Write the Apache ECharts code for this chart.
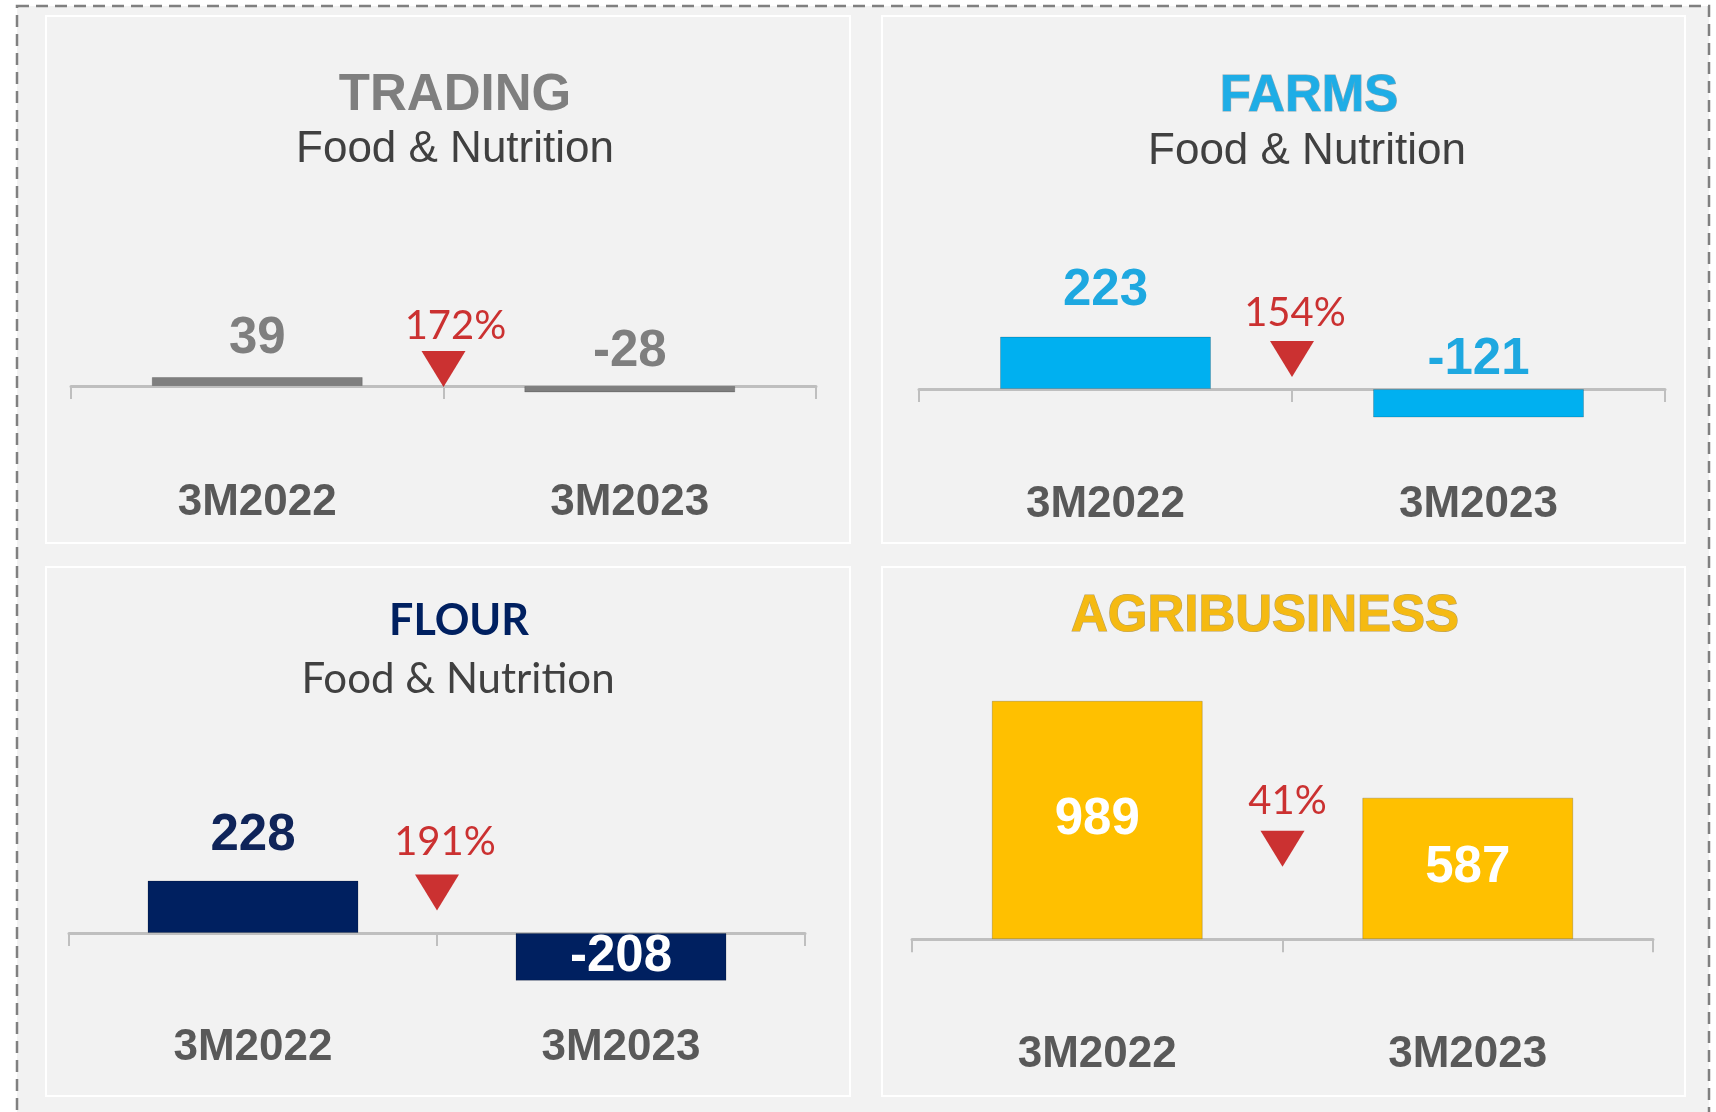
<!DOCTYPE html>
<html><head><meta charset="utf-8">
<script src="https://cdn.jsdelivr.net/npm/echarts@6/dist/echarts.min.js"></script>
<style>html,body{margin:0;padding:0;background:#ffffff;} #c{width:1716px;height:1112px;}</style>
</head><body><div id="c"></div>
<script>
// ---- data ----
const categories = ['3M2022', '3M2023'];
const panelNames = ['TRADING', 'FARMS', 'FLOUR', 'AGRIBUSINESS'];
const panelSubtitles = ['Food & Nutrition', 'Food & Nutrition', 'Food & Nutrition', ''];
const tradingValues = [39, -28];
const farmsValues = [223, -121];
const flourValues = [228, -208];
const agriValues = [989, 587];
const changeLabels = ['172%', '154%', '191%', '41%'];

// ---- layout & styles ----
const ARIAL = '"Liberation Sans", Arial, sans-serif';
const CALIBRI = 'Lato, "Open Sans", sans-serif';
const panels = [
  { values: tradingValues, box: [46, 16, 804, 527], grid: { left: 71, top: 294, width: 745, height: 151.8 }, yMin: -260, yMax: 400,
    markerLevel: 74, barColor: '#7f7f7f', labelColor: '#7f7f7f', titleColor: '#7f7f7f', titleFont: 'bold 51px ' + ARIAL, titleStroke: null,
    titleX: 455, titleY: 96, subX: 455, subY: 150, subFont: '44px ' + ARIAL, inside: [false, false], dist: [13, 9], pctOffset: [12, 0],
    pctDist: 5, labelMargin: 35 },
  { values: farmsValues, box: [882, 16, 803, 527], grid: { left: 919, top: 295, width: 746, height: 154 }, yMin: -255, yMax: 400,
    markerLevel: 128, barColor: '#00b0f0', labelColor: '#1ea8e0', titleColor: '#1eade6', titleFont: 'bold 51px ' + ARIAL, titleStroke: '#8aa7b5',
    titleX: 1309, titleY: 97, subX: 1307, subY: 152, subFont: '44px ' + ARIAL, inside: [false, false], dist: [20, 4], pctOffset: [3, 0],
    pctDist: 8, labelMargin: 34 },
  { values: flourValues, box: [46, 567, 804, 529], grid: { left: 69, top: 841, width: 736, height: 151.8 }, yMin: -260, yMax: 400,
    markerLevel: 176, barColor: '#002060', labelColor: '#0f2459', titleColor: '#002060', titleFont: 'bold 43px ' + CALIBRI, titleStroke: null,
    titleX: 459, titleY: 621, subX: 458, subY: 679, subFont: '42px ' + CALIBRI, inside: [false, true], dist: [19, 0], pctOffset: [8, 0],
    pctDist: 12, labelMargin: 33 },
  { values: agriValues, box: [882, 567, 803, 529], grid: { left: 912, top: 674, width: 741, height: 325.4 }, yMin: -250, yMax: 1100,
    markerLevel: 375, barColor: '#ffc000', labelColor: '#ffffff', titleColor: '#f5ba12', titleFont: 'bold 51px ' + ARIAL, titleStroke: '#b8a060',
    titleX: 1265, titleY: 617, subX: 1265, subY: 672, subFont: '44px ' + ARIAL, inside: [true, true], dist: [0, 0], pctOffset: [5, 0],
    pctDist: 10, labelMargin: 33 }
];

const graphics = [
  { type: 'rect', z: -10, shape: { x: 17, y: 6, width: 1692, height: 1140 },
    style: { fill: '#f2f2f2', stroke: '#808080', lineWidth: 2.5, lineDash: [12, 7] } }
];
const grids = [], xAxes = [], yAxes = [], series = [];

panels.forEach((p, i) => {
  graphics.push({ type: 'rect', z: -5, shape: { x: p.box[0], y: p.box[1], width: p.box[2], height: p.box[3] },
    style: { fill: '#f2f2f2', stroke: '#ffffff', lineWidth: 2 } });
  const ts = { text: panelNames[i], x: p.titleX, y: p.titleY, font: p.titleFont, fill: p.titleColor, align: 'center', verticalAlign: 'middle' };
  if (p.titleStroke) { ts.stroke = p.titleStroke; ts.lineWidth = 1.2; }
  graphics.push({ type: 'text', z: 10, style: ts });
  if (panelSubtitles[i]) {
    graphics.push({ type: 'text', z: 10, style: { text: panelSubtitles[i], x: p.subX, y: p.subY, font: p.subFont, fill: '#404040', align: 'center', verticalAlign: 'middle' } });
  }

  grids.push(Object.assign({ containLabel: false, outerBoundsMode: 'none' }, p.grid));
  xAxes.push({
    gridIndex: i, type: 'category', data: categories,
    axisLine: { onZero: true, lineStyle: { color: '#bfbfbf', width: 3 } },
    axisTick: { show: true, length: 13, lineStyle: { color: '#bfbfbf', width: 2 } },
    axisLabel: { margin: p.labelMargin, color: '#595959', fontFamily: ARIAL, fontWeight: 'bold', fontSize: 44 },
    splitLine: { show: false }
  });
  xAxes.push({ gridIndex: i, type: 'value', min: 0, max: 2, show: false });
  yAxes.push({ gridIndex: i, type: 'value', min: p.yMin, max: p.yMax, show: false, splitLine: { show: false } });

  series.push({
    type: 'bar', xAxisIndex: 2 * i, yAxisIndex: i, barWidth: 211, silent: true,
    itemStyle: { color: p.barColor, borderColor: 'rgba(0,0,0,0.18)', borderWidth: 1 },
    label: { show: true, fontFamily: ARIAL, fontWeight: 'bold', fontSize: 51 },
    data: p.values.map((v, j) => ({
      value: v,
      label: p.inside[j]
        ? { position: 'inside', color: '#ffffff' }
        : { position: 'top', distance: p.dist[j], color: p.labelColor }
    }))
  });
  series.push({
    type: 'scatter', xAxisIndex: 2 * i + 1, yAxisIndex: i, silent: true,
    symbol: 'path://M0,0L44,0L22,36Z', symbolSize: [44, 36],
    itemStyle: { color: '#c00000' },
    label: { show: true, position: 'top', distance: p.pctDist, offset: p.pctOffset, formatter: changeLabels[i],
      color: '#c00000', fontFamily: CALIBRI, fontSize: 40 },
    data: [[1, p.markerLevel]]
  });
});

const chart = echarts.init(document.getElementById('c'), null, { renderer: 'canvas' });
chart.setOption({
  animation: false,
  backgroundColor: '#ffffff',
  graphic: graphics,
  grid: grids,
  xAxis: xAxes,
  yAxis: yAxes,
  series: series
});
</script>
</body></html>
